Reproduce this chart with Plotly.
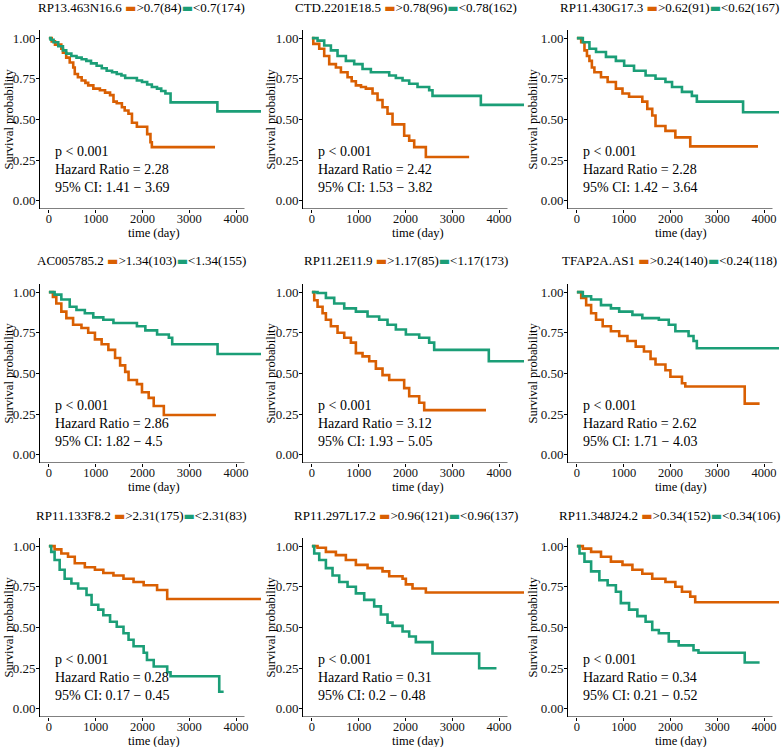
import plotly.graph_objects as go

ORANGE = "#D95F02"
GREEN = "#1B9E77"
FONT = "Liberation Serif"

genes = ["RP13.463N16.6", "CTD.2201E18.5", "RP11.430G17.3",
         "AC005785.2", "RP11.2E11.9", "TFAP2A.AS1",
         "RP11.133F8.2", "RP11.297L17.2", "RP11.348J24.2"]
cutoffs = ["0.7", "0.78", "0.62", "1.34", "1.17", "0.24", "2.31", "0.96", "0.34"]
n_high = [84, 96, 91, 103, 85, 140, 175, 121, 152]
n_low = [174, 162, 167, 155, 173, 118, 83, 137, 106]
hazard = ["2.28", "2.42", "2.28", "2.86", "3.12", "2.62", "0.28", "0.31", "0.34"]
ci_low = ["1.41", "1.53", "1.42", "1.82", "1.93", "1.71", "0.17", "0.2", "0.21"]
ci_high = ["3.69", "3.82", "3.64", "4.5", "5.05", "4.03", "0.45", "0.48", "0.52"]

# Kaplan-Meier steps (day, survival) for high (orange) and low (green) groups
high_t = [
    [0, 60, 130, 265, 300, 370, 445, 520, 553, 620, 700, 780, 840, 950, 1090, 1200, 1307, 1380, 1450, 1560, 1620, 1700, 1775, 1880, 2100, 2170, 2200],
    [0, 30, 157, 263, 370, 513, 620, 762, 850, 940, 1050, 1153, 1296, 1403, 1509, 1616, 1723, 1972, 2079, 2186, 2435],
    [0, 92, 162, 215, 268, 320, 374, 515, 657, 833, 974, 1115, 1398, 1504, 1610, 1680, 1892, 2104, 2422],
    [0, 86, 158, 266, 373, 517, 696, 840, 984, 1127, 1271, 1414, 1522, 1630, 1702, 1881, 1989, 2132, 2240, 2456],
    [0, 50, 121, 228, 299, 406, 548, 691, 833, 940, 1082, 1225, 1367, 1509, 1652, 1972, 2079, 2293, 2400],
    [0, 92, 198, 304, 409, 551, 727, 904, 1080, 1257, 1433, 1574, 1680, 1892, 1998, 2245, 2316, 3586],
    [0, 122, 266, 409, 553, 768, 984, 1163, 1379, 1594, 1809, 2025, 2312, 2528],
    [0, 121, 299, 513, 726, 940, 1189, 1509, 1652, 1937, 2008, 2150, 2435],
    [0, 127, 304, 515, 727, 974, 1186, 1398, 1610, 1892, 2104, 2245, 2422, 2528],
]
high_s = [
    [1.0, 0.98, 0.96, 0.935, 0.91, 0.88, 0.85, 0.82, 0.78, 0.76, 0.74, 0.725, 0.71, 0.69, 0.68, 0.665, 0.65, 0.61, 0.60, 0.575, 0.555, 0.535, 0.48, 0.455, 0.41, 0.36, 0.33],
    [1.0, 0.965, 0.935, 0.89, 0.84, 0.82, 0.79, 0.76, 0.735, 0.71, 0.70, 0.69, 0.66, 0.62, 0.575, 0.535, 0.47, 0.40, 0.37, 0.33, 0.27],
    [1.0, 0.975, 0.925, 0.89, 0.86, 0.82, 0.79, 0.76, 0.73, 0.69, 0.66, 0.64, 0.61, 0.565, 0.525, 0.46, 0.43, 0.39, 0.335],
    [1.0, 0.97, 0.93, 0.88, 0.84, 0.80, 0.78, 0.75, 0.71, 0.68, 0.645, 0.595, 0.55, 0.51, 0.46, 0.435, 0.385, 0.35, 0.30, 0.245],
    [1.0, 0.95, 0.91, 0.87, 0.83, 0.79, 0.75, 0.72, 0.69, 0.625, 0.605, 0.575, 0.53, 0.49, 0.46, 0.41, 0.36, 0.32, 0.275],
    [1.0, 0.965, 0.92, 0.87, 0.83, 0.79, 0.76, 0.73, 0.70, 0.665, 0.635, 0.59, 0.555, 0.52, 0.48, 0.44, 0.42, 0.315],
    [1.0, 0.98, 0.955, 0.935, 0.895, 0.87, 0.855, 0.835, 0.82, 0.80, 0.78, 0.76, 0.73, 0.675],
    [1.0, 0.99, 0.965, 0.945, 0.915, 0.885, 0.865, 0.845, 0.815, 0.80, 0.765, 0.74, 0.715],
    [1.0, 0.985, 0.965, 0.935, 0.905, 0.885, 0.855, 0.83, 0.80, 0.78, 0.75, 0.72, 0.69, 0.655],
]
high_end = [3550, 3360, 3870, 3570, 3720, 3904, 4540, 4540, 4540]

low_t = [
    [0, 40, 100, 200, 300, 370, 480, 590, 700, 800, 900, 1020, 1130, 1235, 1350, 1450, 1550, 1630, 1880, 1990, 2100, 2200, 2310, 2400, 2490, 2600, 3600],
    [0, 121, 263, 406, 548, 726, 904, 1082, 1260, 1652, 1794, 1937, 2079, 2257, 2506, 2577, 3610],
    [0, 127, 268, 409, 621, 833, 1010, 1221, 1468, 1680, 1892, 2033, 2245, 2457, 2563, 3551],
    [0, 122, 266, 445, 589, 768, 948, 1163, 1379, 1881, 2061, 2312, 2563, 2635, 3604],
    [0, 121, 299, 477, 691, 940, 1189, 1438, 1616, 1794, 2008, 2293, 2506, 2613, 3780],
    [0, 127, 304, 515, 727, 904, 1186, 1398, 1751, 1963, 2104, 2386, 2492, 2563],
    [0, 50, 122, 230, 337, 481, 625, 804, 912, 1055, 1163, 1307, 1450, 1594, 1702, 1809, 2025, 2096, 2240, 2528, 2599, 3640],
    [0, 50, 157, 299, 441, 584, 762, 940, 1118, 1331, 1474, 1616, 1723, 1937, 2079, 2221, 2577, 3574],
    [0, 56, 162, 304, 480, 657, 833, 939, 1115, 1292, 1468, 1610, 1751, 1963, 2175, 2492, 2598, 3586],
]
low_s = [
    [1.0, 0.99, 0.975, 0.95, 0.925, 0.905, 0.89, 0.88, 0.87, 0.86, 0.845, 0.83, 0.815, 0.80, 0.79, 0.78, 0.77, 0.755, 0.74, 0.73, 0.715, 0.70, 0.69, 0.675, 0.66, 0.605, 0.55],
    [1.0, 0.985, 0.955, 0.925, 0.89, 0.86, 0.84, 0.81, 0.79, 0.77, 0.755, 0.74, 0.72, 0.70, 0.68, 0.645, 0.59],
    [1.0, 0.975, 0.935, 0.915, 0.885, 0.86, 0.83, 0.80, 0.77, 0.75, 0.73, 0.70, 0.67, 0.645, 0.61, 0.545],
    [1.0, 0.985, 0.955, 0.91, 0.89, 0.87, 0.845, 0.83, 0.81, 0.79, 0.765, 0.74, 0.72, 0.68, 0.62],
    [1.0, 0.995, 0.965, 0.93, 0.90, 0.88, 0.85, 0.83, 0.80, 0.77, 0.74, 0.72, 0.69, 0.645, 0.575],
    [1.0, 0.975, 0.955, 0.92, 0.90, 0.88, 0.86, 0.84, 0.83, 0.80, 0.76, 0.73, 0.70, 0.655],
    [1.0, 0.965, 0.915, 0.855, 0.80, 0.77, 0.74, 0.70, 0.64, 0.61, 0.575, 0.535, 0.505, 0.465, 0.425, 0.385, 0.345, 0.30, 0.26, 0.225, 0.20, 0.105],
    [1.0, 0.955, 0.915, 0.865, 0.82, 0.78, 0.75, 0.71, 0.67, 0.63, 0.58, 0.53, 0.51, 0.475, 0.445, 0.41, 0.34, 0.25],
    [1.0, 0.955, 0.905, 0.845, 0.79, 0.76, 0.72, 0.65, 0.61, 0.57, 0.535, 0.485, 0.465, 0.415, 0.39, 0.36, 0.345, 0.285],
]
low_end = [4540, 4540, 4540, 4540, 4540, 4540, 3734, 3944, 3904]

x_ticks = [0, 1000, 2000, 3000, 4000]
y_ticks = [0, 0.25, 0.5, 0.75, 1.0]

W, H = 784, 747
col_px = [(40, 261), (303, 524), (568, 779)]
row_px = [(30, 209), (284, 463), (538, 717)]
title_x = [141, 406, 669]
title_y = [7, 260, 515]
ytitle_x = [8, 270, 532]
xtitle_x = [154, 418, 681]
px_per_day = 0.0468
x_start = -190

fig = go.Figure()
layout = dict(
    width=W, height=H,
    margin=dict(l=0, r=0, t=0, b=0),
    paper_bgcolor="white", plot_bgcolor="white",
    showlegend=False,
    font=dict(family=FONT, size=12, color="black"),
)
annotations = []
shapes = []
tick_font = dict(family=FONT, size=13, color="#111")
xtick_font = dict(family=FONT, size=12.5, color="#111")

for i in range(9):
    r, c = divmod(i, 3)
    k = "" if i == 0 else str(i + 1)
    x0, x1 = col_px[c]
    yt, yb = row_px[r]
    x_end = x_start + (x1 - x0) / px_per_day

    for ts, ss, end, color in [(high_t[i], high_s[i], high_end[i], ORANGE),
                               (low_t[i], low_s[i], low_end[i], GREEN)]:
        fig.add_trace(go.Scatter(
            x=ts + [end], y=ss + [ss[-1]],
            mode="lines", line=dict(color=color, width=2.6, shape="hv"),
            xaxis="x" + k, yaxis="y" + k, hoverinfo="skip",
        ))

    layout["xaxis" + k] = dict(
        domain=[x0 / W, x1 / W], range=[x_start, x_end], anchor="y" + k,
        tickvals=x_ticks, ticks="outside", ticklen=3, tickcolor="black",
        ticklabelstandoff=-5,
        showline=False, showgrid=False, zeroline=False, tickfont=xtick_font,
    )
    layout["yaxis" + k] = dict(
        domain=[1 - yb / H, 1 - yt / H], range=[-0.05, 1.05], anchor="x" + k,
        tickvals=y_ticks, tickformat=".2f", ticks="outside", ticklen=3,
        ticklabelstandoff=-2,
        tickcolor="black", showline=True, linecolor="black", linewidth=1,
        showgrid=False, zeroline=False, tickfont=tick_font,
    )
    # x axis line stops short of the panel edge
    shapes.append(dict(type="line", xref="x" + k, yref="y" + k,
                       x0=x_start, x1=4180, y0=-0.05, y1=-0.05,
                       line=dict(color="black", width=1)))

    seg = "<span style='color:{};font-family:DejaVu Sans;font-size:12px'>▬</span>"
    legend_txt = (f"{genes[i]} " + seg.format(ORANGE) +
                  f"&gt;{cutoffs[i]}({n_high[i]})" + seg.format(GREEN) +
                  f"&lt;{cutoffs[i]}({n_low[i]})")
    annotations.append(dict(text=legend_txt, xref="paper", yref="paper",
                            x=title_x[c] / W, y=1 - title_y[r] / H,
                            xanchor="center", yanchor="middle", showarrow=False,
                            font=dict(family=FONT, size=13, color="black")))
    annotations.append(dict(text="Survival probability", textangle=-90,
                            xref="paper", yref="paper",
                            x=ytitle_x[c] / W, y=1 - (yt + yb) / 2 / H,
                            xanchor="center", yanchor="middle", showarrow=False,
                            font=dict(family=FONT, size=12.5, color="black")))
    annotations.append(dict(text="time (day)", xref="paper", yref="paper",
                            x=xtitle_x[c] / W, y=1 - (yb + 23.5) / H,
                            xanchor="center", yanchor="middle", showarrow=False,
                            font=dict(family=FONT, size=12.5, color="black")))
    stats = ["p &lt; 0.001", f"Hazard Ratio = {hazard[i]}",
             f"95% CI: {ci_low[i]} − {ci_high[i]}"]
    for txt, yv in zip(stats, [0.305, 0.195, 0.082]):
        annotations.append(dict(text=txt, xref="x" + k, yref="y" + k,
                                x=80, y=yv, xanchor="left", yanchor="middle",
                                showarrow=False,
                                font=dict(family=FONT, size=14, color="black")))

layout["annotations"] = annotations
layout["shapes"] = shapes
fig.update_layout(**layout)
fig.write_html("out.html", config={"displayModeBar": False},
               post_script="document.body.style.margin='0';")
